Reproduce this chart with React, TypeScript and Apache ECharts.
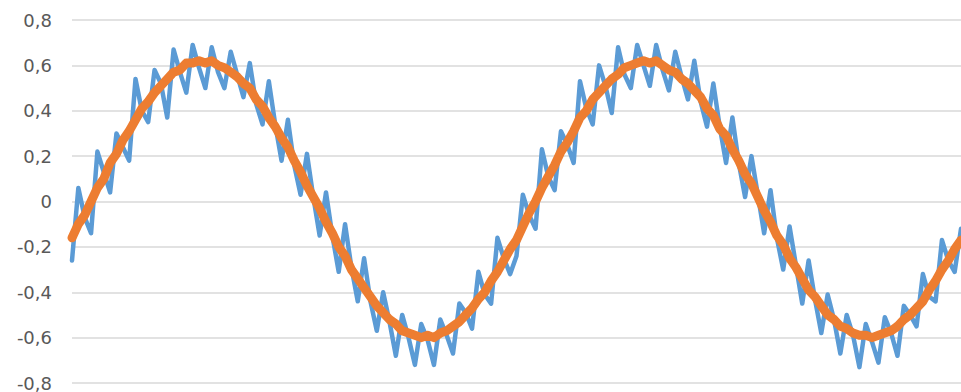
import React, { useEffect, useRef } from "react";
import * as echarts from "echarts";

// Sample index along the horizontal axis (141 samples, two periods of the wave)
const sampleCount = 141;
const samples: string[] = Array.from({ length: sampleCount }, (_, i) => String(i + 1));

// Raw measured signal (noisy)
const rawSignal: number[] = [
  -0.26, 0.06, -0.07, -0.14, 0.22, 0.13, 0.04, 0.30, 0.24, 0.18,
  0.54, 0.40, 0.35, 0.58, 0.52, 0.37, 0.67, 0.57, 0.48, 0.69,
  0.59, 0.50, 0.68, 0.57, 0.50, 0.66, 0.56, 0.46, 0.61, 0.43,
  0.34, 0.53, 0.34, 0.18, 0.36, 0.16, 0.03, 0.21, 0.02, -0.15,
  0.04, -0.15, -0.31, -0.10, -0.29, -0.44, -0.25, -0.44, -0.57, -0.40,
  -0.53, -0.68, -0.50, -0.60, -0.72, -0.54, -0.61, -0.72, -0.52, -0.59,
  -0.67, -0.45, -0.49, -0.56, -0.31, -0.41, -0.45, -0.16, -0.25, -0.32,
  -0.24, 0.03, -0.06, -0.12, 0.23, 0.11, 0.05, 0.31, 0.25, 0.17,
  0.53, 0.41, 0.34, 0.60, 0.51, 0.39, 0.68, 0.56, 0.50, 0.69,
  0.60, 0.51, 0.69, 0.58, 0.49, 0.66, 0.55, 0.45, 0.62, 0.44,
  0.33, 0.52, 0.33, 0.17, 0.37, 0.17, 0.02, 0.20, 0.03, -0.14,
  0.05, -0.16, -0.30, -0.11, -0.28, -0.45, -0.26, -0.43, -0.58, -0.41,
  -0.52, -0.67, -0.50, -0.59, -0.73, -0.54, -0.62, -0.71, -0.51, -0.58,
  -0.68, -0.46, -0.50, -0.55, -0.32, -0.42, -0.44, -0.17, -0.26, -0.31,
  -0.12,
];

// Filtered signal
const filteredSignal: number[] = [
  -0.16, -0.10, -0.06, 0.00, 0.06, 0.10, 0.17, 0.21, 0.27, 0.31,
  0.36, 0.41, 0.44, 0.48, 0.51, 0.54, 0.57, 0.58, 0.61, 0.61,
  0.62, 0.61, 0.62, 0.60, 0.59, 0.57, 0.55, 0.52, 0.50, 0.45,
  0.42, 0.37, 0.33, 0.28, 0.24, 0.18, 0.13, 0.07, 0.02, -0.03,
  -0.09, -0.14, -0.20, -0.24, -0.30, -0.34, -0.38, -0.42, -0.46, -0.49,
  -0.52, -0.54, -0.57, -0.58, -0.59, -0.60, -0.59, -0.60, -0.58, -0.57,
  -0.55, -0.53, -0.50, -0.47, -0.43, -0.40, -0.35, -0.31, -0.26, -0.21,
  -0.17, -0.11, -0.05, 0.00, 0.06, 0.11, 0.16, 0.22, 0.26, 0.31,
  0.37, 0.40, 0.45, 0.48, 0.51, 0.54, 0.56, 0.59, 0.60, 0.61,
  0.62, 0.61, 0.62, 0.60, 0.58, 0.57, 0.54, 0.52, 0.49, 0.46,
  0.41, 0.38, 0.32, 0.29, 0.23, 0.18, 0.12, 0.08, 0.02, -0.04,
  -0.09, -0.15, -0.19, -0.25, -0.29, -0.34, -0.39, -0.42, -0.46, -0.50,
  -0.52, -0.55, -0.56, -0.58, -0.59, -0.59, -0.60, -0.59, -0.58, -0.57,
  -0.55, -0.52, -0.50, -0.47, -0.44, -0.39, -0.35, -0.30, -0.26, -0.21,
  -0.17,
];

// Value axis range
const yMin = -0.8;
const yMax = 0.8;
const yStep = 0.2;

const formatTick = (v: number): string => {
  if (Math.abs(v) < 1e-9) return "0";
  return v.toFixed(1).replace(".", ",");
};

export default function App() {
  const ref = useRef<HTMLDivElement>(null);

  useEffect(() => {
    if (!ref.current) return;
    const chart = echarts.init(ref.current, undefined, { renderer: "svg" });
    chart.setOption({
      animation: false,
      backgroundColor: "#ffffff",
      grid: { left: 72, right: 0, top: 20, bottom: 9, containLabel: false },
      xAxis: {
        type: "category",
        data: samples,
        boundaryGap: false,
        show: false,
      },
      yAxis: {
        type: "value",
        min: yMin,
        max: yMax,
        interval: yStep,
        axisLine: { show: false },
        axisTick: { show: false },
        splitLine: { lineStyle: { color: "#d9d9d9", width: 1.5 } },
        axisLabel: {
          formatter: formatTick,
          color: "#595959",
          fontSize: 18,
          fontFamily: "DejaVu Sans",
          margin: 20,
        },
      },
      series: [
        {
          type: "line",
          data: rawSignal,
          showSymbol: false,
          lineStyle: { color: "#5b9bd5", width: 4.5, join: "round", cap: "round" },
          z: 2,
        },
        {
          type: "line",
          data: filteredSignal,
          showSymbol: false,
          lineStyle: { color: "#ed7d31", width: 9, join: "round", cap: "round" },
          z: 3,
        },
      ],
    });
    return () => chart.dispose();
  }, []);

  return (
    <div
      ref={ref}
      style={{ position: "fixed", left: 0, top: 0, width: 961, height: 392 }}
    />
  );
}
